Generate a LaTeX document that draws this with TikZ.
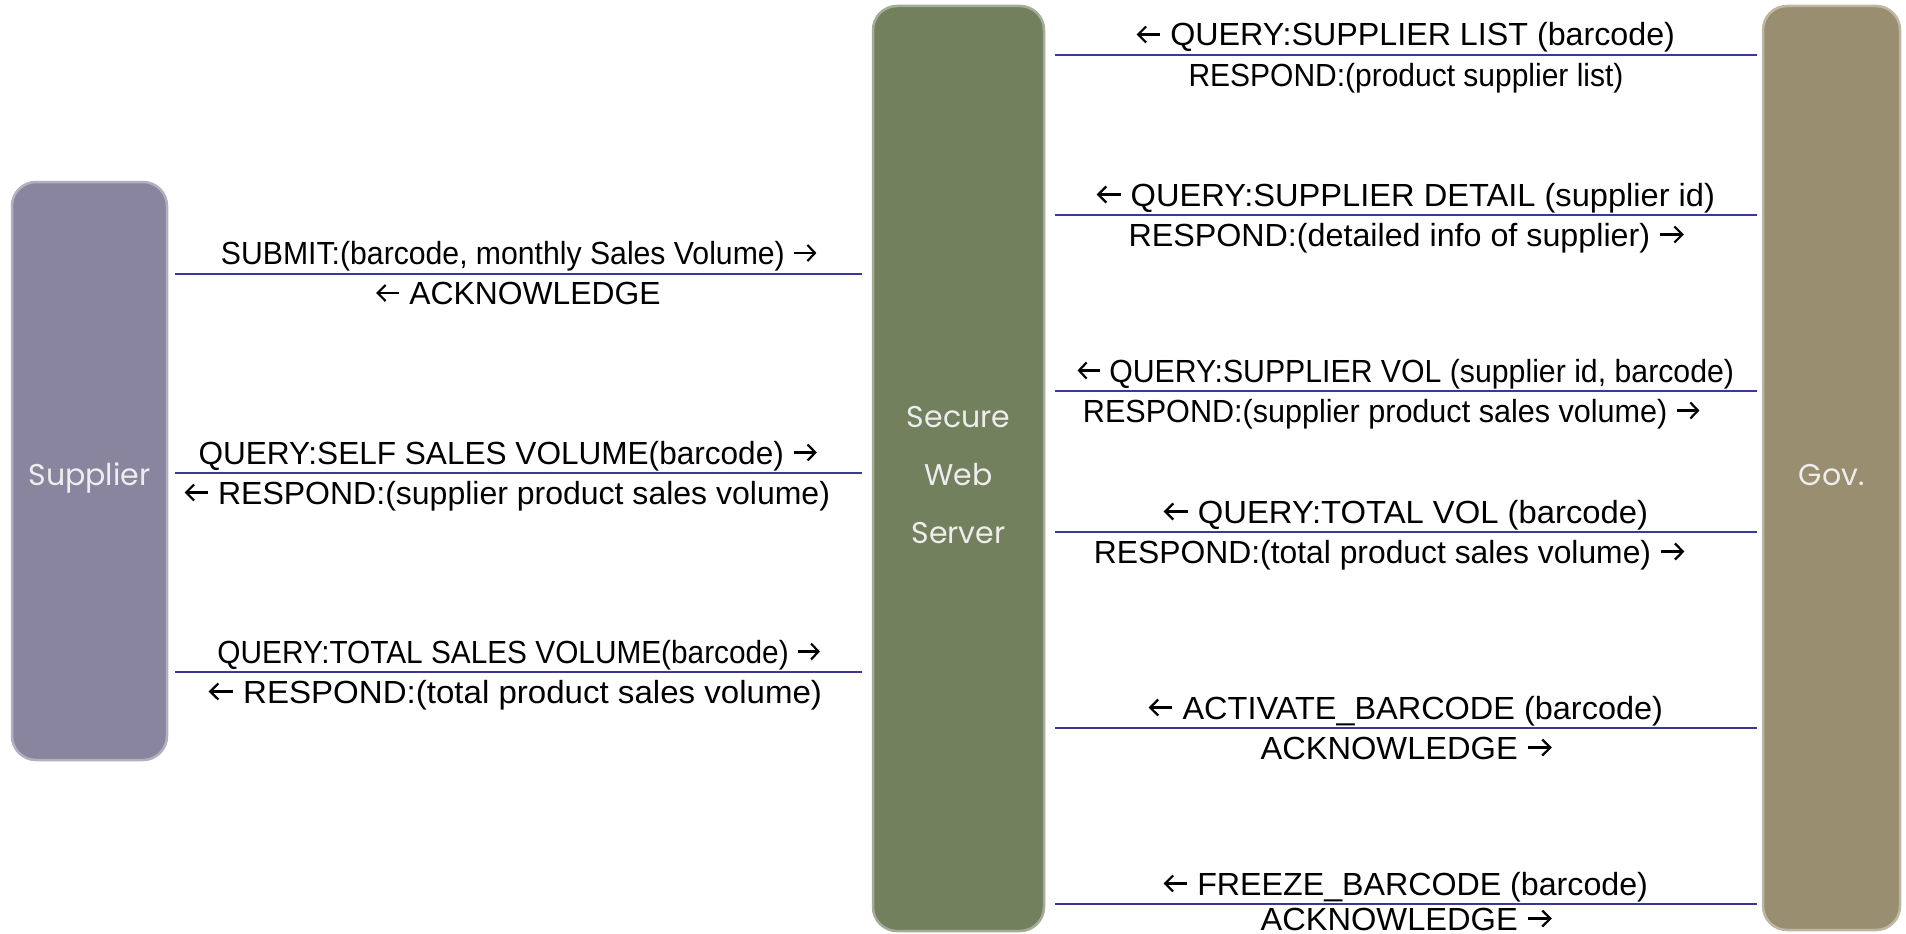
\documentclass[tikz,border=0pt]{standalone}
\usepackage{fontspec}
\usepackage{graphicx}
\usetikzlibrary{calc}
\setmainfont{Liberation Sans}
\newfontfamily\boxfont{Poppins}
\definecolor{supc}{RGB}{137,133,158}
\definecolor{srvc}{RGB}{114,128,94}
\definecolor{govc}{RGB}{154,142,112}
\definecolor{linec}{RGB}{58,58,150}
\newcommand\rarr{\tikz[baseline=0pt,x=1pt,y=1pt]{\draw[line width=2.2pt] (0,11.5) -- (22,11.5); \draw[line width=2.2pt, line join=miter] (14,3.5) -- (22,11.5) -- (14,19.5);}}
\newcommand\larr{\tikz[baseline=0pt,x=1pt,y=1pt]{\draw[line width=2.2pt] (0,11.5) -- (22,11.5); \draw[line width=2.2pt, line join=miter] (8,3.5) -- (0,11.5) -- (8,19.5);}}
\newcommand\fit[2]{\resizebox{#1pt}{\height}{#2}}
\begin{document}
\begin{tikzpicture}[x=1pt,y=-1pt,
  box/.style={rounded corners=24pt, minimum width=#1, inner sep=0pt},
  boxtext/.style={text=white!93!black, font=\boxfont\fontsize{30}{58}\selectfont, align=center, yshift=-7pt},
  msg/.style={draw=linec, line width=2pt},
  lbl/.style={inner sep=0pt, anchor=base, font=\fontsize{32}{36}\selectfont}]
\useasboundingbox (0,0) rectangle (1906,934);
% boxes
\node[box=155pt, minimum height=578pt, fill=supc, draw=supc!65!white, line width=2.5pt,
  label={[boxtext]center:Supplier}] (sup) at (89.5,471) {};
\node[box=171pt, minimum height=925pt, fill=srvc, draw=srvc!65!white, line width=2.5pt,
  label={[boxtext]center:Secure\\Web\\Server}] (srv) at (958.5,468.5) {};
\node[box=137pt, minimum height=924pt, fill=govc, draw=govc!65!white, line width=2.5pt,
  label={[boxtext]center:Gov.}] (gov) at (1831.5,468) {};
% left connectors
\foreach \n/\y in {a/273.5, b/473, c/672}{
  \coordinate (l\n1) at ([xshift=7pt]sup.east |- 0,\y);
  \coordinate (l\n2) at ([xshift=-10pt]srv.west |- 0,\y);
  \draw[msg] (l\n1) -- (l\n2);
}
\foreach \n/\y in {a/55, b/215, c/391, d/532, e/728, f/904}{
  \coordinate (r\n1) at ([xshift=10pt]srv.east |- 0,\y);
  \coordinate (r\n2) at ([xshift=-5pt]gov.west |- 0,\y);
  \draw[msg] (r\n1) -- (r\n2);
}
% left labels
\node[lbl] (ta1) at ([yshift=9pt]$(la1)!0.5!(la2)$) {\fit{595}{SUBMIT:(barcode, monthly Sales Volume) \rarr}};
\node[lbl] (ta2) at ([yshift=-31pt]$(la1)!0.5!(la2)$) {\fit{284}{\larr\ ACKNOWLEDGE}};
\node[lbl] (tb1) at ([xshift=-11pt,yshift=9pt]$(lb1)!0.5!(lb2)$) {\fit{618}{QUERY:SELF SALES VOLUME(barcode) \rarr}};
\node[lbl] (tb2) at ([xshift=-11pt,yshift=-31pt]$(lb1)!0.5!(lb2)$) {\fit{645}{\larr\ RESPOND:(supplier product sales volume)}};
\node[lbl] (tc1) at ([yshift=9pt]$(lc1)!0.5!(lc2)$) {\fit{602}{QUERY:TOTAL SALES VOLUME(barcode) \rarr}};
\node[lbl] (tc2) at ([xshift=-3pt,yshift=-31pt]$(lc1)!0.5!(lc2)$) {\fit{613}{\larr\ RESPOND:(total product sales volume)}};
% right labels
\node[lbl] (ua1) at ([yshift=9pt]$(ra1)!0.5!(ra2)$) {\fit{538}{\larr\ QUERY:SUPPLIER LIST (barcode)}};
\node[lbl] (ua2) at ([yshift=-31pt]$(ra1)!0.5!(ra2)$) {\fit{435}{RESPOND:(product supplier list)}};
\node[lbl] (ub1) at ([yshift=9pt]$(rb1)!0.5!(rb2)$) {\fit{618}{\larr\ QUERY:SUPPLIER DETAIL (supplier id)}};
\node[lbl] (ub2) at ([yshift=-31pt]$(rb1)!0.5!(rb2)$) {\fit{555}{RESPOND:(detailed info of supplier) \rarr}};
\node[lbl] (uc1) at ([yshift=9pt]$(rc1)!0.5!(rc2)$) {\fit{656}{\larr\ QUERY:SUPPLIER VOL (supplier id, barcode)}};
\node[lbl] (uc2) at ([xshift=-15pt,yshift=-31pt]$(rc1)!0.5!(rc2)$) {\fit{616}{RESPOND:(supplier product sales volume) \rarr}};
\node[lbl] (ud1) at ([yshift=9pt]$(rd1)!0.5!(rd2)$) {\fit{484}{\larr\ QUERY:TOTAL VOL (barcode)}};
\node[lbl] (ud2) at ([xshift=-17pt,yshift=-31pt]$(rd1)!0.5!(rd2)$) {\fit{590}{RESPOND:(total product sales volume) \rarr}};
\node[lbl] (ue1) at ([yshift=9pt]$(re1)!0.5!(re2)$) {\fit{514}{\larr\ ACTIVATE\_BARCODE (barcode)}};
\node[lbl] (ue2) at ([yshift=-31pt]$(re1)!0.5!(re2)$) {\fit{291}{ACKNOWLEDGE \rarr}};
\node[lbl] (uf1) at ([yshift=9pt]$(rf1)!0.5!(rf2)$) {\fit{484}{\larr\ FREEZE\_BARCODE (barcode)}};
\node[lbl] (uf2) at ([yshift=-26pt]$(rf1)!0.5!(rf2)$) {\fit{291}{ACKNOWLEDGE \rarr}};
\end{tikzpicture}
\end{document}
